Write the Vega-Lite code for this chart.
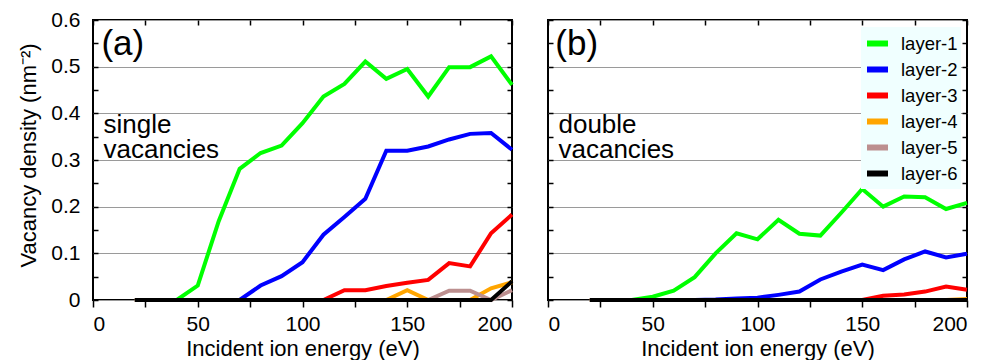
{
"$schema": "https://vega.github.io/schema/vega-lite/v6.json",
"padding": {"left": 15, "top": 8, "right": 0, "bottom": 0},
"background": "white",
"bounds": "flush",
"spacing": 36,
"config": {
  "font": "Liberation Sans",
  "view": {"stroke": "black", "strokeWidth": 2},
  "axis": {"domain": false, "tickColor": "black", "tickWidth": 1.5, "labelColor": "black", "titleColor": "black", "labelFont": "Liberation Sans", "titleFont": "Liberation Sans", "labelFontSize": 21, "titleFontSize": 22, "titleFontWeight": "normal", "gridColor": "#9a9a9a", "gridWidth": 1.2, "labelOverlap": false},
  "legend": {"orient": "none", "fillColor": "#f0ffff", "padding": 3, "symbolType": "stroke", "symbolStrokeWidth": 6, "symbolSize": 441, "labelFontSize": 18.5, "labelFont": "Liberation Sans", "labelColor": "black", "rowPadding": -4, "labelOffset": 10, "title": null}
},
"resolve": {"legend": {"color": "independent"}},
"datasets": {
 "a": [
  {"energy":20,"density":0,"layer":"layer-1"},{"energy":30,"density":0,"layer":"layer-1"},{"energy":40,"density":0,"layer":"layer-1"},{"energy":50,"density":0.031,"layer":"layer-1"},{"energy":60,"density":0.169,"layer":"layer-1"},{"energy":70,"density":0.281,"layer":"layer-1"},{"energy":80,"density":0.315,"layer":"layer-1"},{"energy":90,"density":0.331,"layer":"layer-1"},{"energy":100,"density":0.379,"layer":"layer-1"},{"energy":110,"density":0.436,"layer":"layer-1"},{"energy":120,"density":0.463,"layer":"layer-1"},{"energy":130,"density":0.511,"layer":"layer-1"},{"energy":140,"density":0.474,"layer":"layer-1"},{"energy":150,"density":0.495,"layer":"layer-1"},{"energy":160,"density":0.436,"layer":"layer-1"},{"energy":170,"density":0.499,"layer":"layer-1"},{"energy":180,"density":0.499,"layer":"layer-1"},{"energy":190,"density":0.522,"layer":"layer-1"},{"energy":200,"density":0.461,"layer":"layer-1"},
  {"energy":20,"density":0,"layer":"layer-2"},{"energy":30,"density":0,"layer":"layer-2"},{"energy":40,"density":0,"layer":"layer-2"},{"energy":50,"density":0,"layer":"layer-2"},{"energy":60,"density":0,"layer":"layer-2"},{"energy":70,"density":0,"layer":"layer-2"},{"energy":80,"density":0.031,"layer":"layer-2"},{"energy":90,"density":0.051,"layer":"layer-2"},{"energy":100,"density":0.081,"layer":"layer-2"},{"energy":110,"density":0.14,"layer":"layer-2"},{"energy":120,"density":0.178,"layer":"layer-2"},{"energy":130,"density":0.217,"layer":"layer-2"},{"energy":140,"density":0.32,"layer":"layer-2"},{"energy":150,"density":0.32,"layer":"layer-2"},{"energy":160,"density":0.329,"layer":"layer-2"},{"energy":170,"density":0.344,"layer":"layer-2"},{"energy":180,"density":0.356,"layer":"layer-2"},{"energy":190,"density":0.358,"layer":"layer-2"},{"energy":200,"density":0.322,"layer":"layer-2"},
  {"energy":20,"density":0,"layer":"layer-3"},{"energy":30,"density":0,"layer":"layer-3"},{"energy":40,"density":0,"layer":"layer-3"},{"energy":50,"density":0,"layer":"layer-3"},{"energy":60,"density":0,"layer":"layer-3"},{"energy":70,"density":0,"layer":"layer-3"},{"energy":80,"density":0,"layer":"layer-3"},{"energy":90,"density":0,"layer":"layer-3"},{"energy":100,"density":0,"layer":"layer-3"},{"energy":110,"density":0,"layer":"layer-3"},{"energy":120,"density":0.021,"layer":"layer-3"},{"energy":130,"density":0.021,"layer":"layer-3"},{"energy":140,"density":0.03,"layer":"layer-3"},{"energy":150,"density":0.037,"layer":"layer-3"},{"energy":160,"density":0.043,"layer":"layer-3"},{"energy":170,"density":0.079,"layer":"layer-3"},{"energy":180,"density":0.072,"layer":"layer-3"},{"energy":190,"density":0.143,"layer":"layer-3"},{"energy":200,"density":0.183,"layer":"layer-3"},
  {"energy":20,"density":0,"layer":"layer-4"},{"energy":30,"density":0,"layer":"layer-4"},{"energy":40,"density":0,"layer":"layer-4"},{"energy":50,"density":0,"layer":"layer-4"},{"energy":60,"density":0,"layer":"layer-4"},{"energy":70,"density":0,"layer":"layer-4"},{"energy":80,"density":0,"layer":"layer-4"},{"energy":90,"density":0,"layer":"layer-4"},{"energy":100,"density":0,"layer":"layer-4"},{"energy":110,"density":0,"layer":"layer-4"},{"energy":120,"density":0,"layer":"layer-4"},{"energy":130,"density":0,"layer":"layer-4"},{"energy":140,"density":0,"layer":"layer-4"},{"energy":150,"density":0.021,"layer":"layer-4"},{"energy":160,"density":0,"layer":"layer-4"},{"energy":170,"density":0,"layer":"layer-4"},{"energy":180,"density":0,"layer":"layer-4"},{"energy":190,"density":0.025,"layer":"layer-4"},{"energy":200,"density":0.038,"layer":"layer-4"},
  {"energy":20,"density":0,"layer":"layer-5"},{"energy":30,"density":0,"layer":"layer-5"},{"energy":40,"density":0,"layer":"layer-5"},{"energy":50,"density":0,"layer":"layer-5"},{"energy":60,"density":0,"layer":"layer-5"},{"energy":70,"density":0,"layer":"layer-5"},{"energy":80,"density":0,"layer":"layer-5"},{"energy":90,"density":0,"layer":"layer-5"},{"energy":100,"density":0,"layer":"layer-5"},{"energy":110,"density":0,"layer":"layer-5"},{"energy":120,"density":0,"layer":"layer-5"},{"energy":130,"density":0,"layer":"layer-5"},{"energy":140,"density":0,"layer":"layer-5"},{"energy":150,"density":0,"layer":"layer-5"},{"energy":160,"density":0,"layer":"layer-5"},{"energy":170,"density":0.02,"layer":"layer-5"},{"energy":180,"density":0.02,"layer":"layer-5"},{"energy":190,"density":0,"layer":"layer-5"},{"energy":200,"density":0.021,"layer":"layer-5"},
  {"energy":20,"density":0,"layer":"layer-6"},{"energy":30,"density":0,"layer":"layer-6"},{"energy":40,"density":0,"layer":"layer-6"},{"energy":50,"density":0,"layer":"layer-6"},{"energy":60,"density":0,"layer":"layer-6"},{"energy":70,"density":0,"layer":"layer-6"},{"energy":80,"density":0,"layer":"layer-6"},{"energy":90,"density":0,"layer":"layer-6"},{"energy":100,"density":0,"layer":"layer-6"},{"energy":110,"density":0,"layer":"layer-6"},{"energy":120,"density":0,"layer":"layer-6"},{"energy":130,"density":0,"layer":"layer-6"},{"energy":140,"density":0,"layer":"layer-6"},{"energy":150,"density":0,"layer":"layer-6"},{"energy":160,"density":0,"layer":"layer-6"},{"energy":170,"density":0,"layer":"layer-6"},{"energy":180,"density":0,"layer":"layer-6"},{"energy":190,"density":0,"layer":"layer-6"},{"energy":200,"density":0.04,"layer":"layer-6"}
 ],
 "b": [
  {"energy":20,"density":0,"layer":"layer-1"},{"energy":30,"density":0,"layer":"layer-1"},{"energy":40,"density":0,"layer":"layer-1"},{"energy":50,"density":0.007,"layer":"layer-1"},{"energy":60,"density":0.02,"layer":"layer-1"},{"energy":70,"density":0.049,"layer":"layer-1"},{"energy":80,"density":0.1,"layer":"layer-1"},{"energy":90,"density":0.143,"layer":"layer-1"},{"energy":100,"density":0.13,"layer":"layer-1"},{"energy":110,"density":0.172,"layer":"layer-1"},{"energy":120,"density":0.142,"layer":"layer-1"},{"energy":130,"density":0.138,"layer":"layer-1"},{"energy":140,"density":0.187,"layer":"layer-1"},{"energy":150,"density":0.238,"layer":"layer-1"},{"energy":160,"density":0.2,"layer":"layer-1"},{"energy":170,"density":0.222,"layer":"layer-1"},{"energy":180,"density":0.22,"layer":"layer-1"},{"energy":190,"density":0.195,"layer":"layer-1"},{"energy":200,"density":0.208,"layer":"layer-1"},
  {"energy":20,"density":0,"layer":"layer-2"},{"energy":30,"density":0,"layer":"layer-2"},{"energy":40,"density":0,"layer":"layer-2"},{"energy":50,"density":0,"layer":"layer-2"},{"energy":60,"density":0,"layer":"layer-2"},{"energy":70,"density":0,"layer":"layer-2"},{"energy":80,"density":0.001,"layer":"layer-2"},{"energy":90,"density":0.003,"layer":"layer-2"},{"energy":100,"density":0.005,"layer":"layer-2"},{"energy":110,"density":0.011,"layer":"layer-2"},{"energy":120,"density":0.018,"layer":"layer-2"},{"energy":130,"density":0.044,"layer":"layer-2"},{"energy":140,"density":0.061,"layer":"layer-2"},{"energy":150,"density":0.076,"layer":"layer-2"},{"energy":160,"density":0.064,"layer":"layer-2"},{"energy":170,"density":0.087,"layer":"layer-2"},{"energy":180,"density":0.104,"layer":"layer-2"},{"energy":190,"density":0.091,"layer":"layer-2"},{"energy":200,"density":0.099,"layer":"layer-2"},
  {"energy":20,"density":0,"layer":"layer-3"},{"energy":30,"density":0,"layer":"layer-3"},{"energy":40,"density":0,"layer":"layer-3"},{"energy":50,"density":0,"layer":"layer-3"},{"energy":60,"density":0,"layer":"layer-3"},{"energy":70,"density":0,"layer":"layer-3"},{"energy":80,"density":0,"layer":"layer-3"},{"energy":90,"density":0,"layer":"layer-3"},{"energy":100,"density":0,"layer":"layer-3"},{"energy":110,"density":0,"layer":"layer-3"},{"energy":120,"density":0,"layer":"layer-3"},{"energy":130,"density":0,"layer":"layer-3"},{"energy":140,"density":0,"layer":"layer-3"},{"energy":150,"density":0,"layer":"layer-3"},{"energy":160,"density":0.009,"layer":"layer-3"},{"energy":170,"density":0.012,"layer":"layer-3"},{"energy":180,"density":0.018,"layer":"layer-3"},{"energy":190,"density":0.029,"layer":"layer-3"},{"energy":200,"density":0.022,"layer":"layer-3"},
  {"energy":20,"density":0,"layer":"layer-4"},{"energy":30,"density":0,"layer":"layer-4"},{"energy":40,"density":0,"layer":"layer-4"},{"energy":50,"density":0,"layer":"layer-4"},{"energy":60,"density":0,"layer":"layer-4"},{"energy":70,"density":0,"layer":"layer-4"},{"energy":80,"density":0,"layer":"layer-4"},{"energy":90,"density":0,"layer":"layer-4"},{"energy":100,"density":0,"layer":"layer-4"},{"energy":110,"density":0,"layer":"layer-4"},{"energy":120,"density":0,"layer":"layer-4"},{"energy":130,"density":0,"layer":"layer-4"},{"energy":140,"density":0,"layer":"layer-4"},{"energy":150,"density":0,"layer":"layer-4"},{"energy":160,"density":0,"layer":"layer-4"},{"energy":170,"density":0,"layer":"layer-4"},{"energy":180,"density":0,"layer":"layer-4"},{"energy":190,"density":0,"layer":"layer-4"},{"energy":200,"density":0.002,"layer":"layer-4"},
  {"energy":20,"density":0,"layer":"layer-5"},{"energy":30,"density":0,"layer":"layer-5"},{"energy":40,"density":0,"layer":"layer-5"},{"energy":50,"density":0,"layer":"layer-5"},{"energy":60,"density":0,"layer":"layer-5"},{"energy":70,"density":0,"layer":"layer-5"},{"energy":80,"density":0,"layer":"layer-5"},{"energy":90,"density":0,"layer":"layer-5"},{"energy":100,"density":0,"layer":"layer-5"},{"energy":110,"density":0,"layer":"layer-5"},{"energy":120,"density":0,"layer":"layer-5"},{"energy":130,"density":0,"layer":"layer-5"},{"energy":140,"density":0,"layer":"layer-5"},{"energy":150,"density":0,"layer":"layer-5"},{"energy":160,"density":0,"layer":"layer-5"},{"energy":170,"density":0,"layer":"layer-5"},{"energy":180,"density":0,"layer":"layer-5"},{"energy":190,"density":0,"layer":"layer-5"},{"energy":200,"density":0,"layer":"layer-5"},
  {"energy":20,"density":0,"layer":"layer-6"},{"energy":30,"density":0,"layer":"layer-6"},{"energy":40,"density":0,"layer":"layer-6"},{"energy":50,"density":0,"layer":"layer-6"},{"energy":60,"density":0,"layer":"layer-6"},{"energy":70,"density":0,"layer":"layer-6"},{"energy":80,"density":0,"layer":"layer-6"},{"energy":90,"density":0,"layer":"layer-6"},{"energy":100,"density":0,"layer":"layer-6"},{"energy":110,"density":0,"layer":"layer-6"},{"energy":120,"density":0,"layer":"layer-6"},{"energy":130,"density":0,"layer":"layer-6"},{"energy":140,"density":0,"layer":"layer-6"},{"energy":150,"density":0,"layer":"layer-6"},{"energy":160,"density":0,"layer":"layer-6"},{"energy":170,"density":0,"layer":"layer-6"},{"energy":180,"density":0,"layer":"layer-6"},{"energy":190,"density":0,"layer":"layer-6"},{"energy":200,"density":0,"layer":"layer-6"}
 ]
},
"hconcat": [
 {
  "width": 419, "height": 280,
  "resolve": {"axis": {"x": "independent", "y": "independent"}},
  "layer": [
   {
    "data": {"name": "a"},
    "mark": {"type": "line", "strokeWidth": 4},
    "encoding": {
     "x": {"field": "energy", "type": "quantitative", "scale": {"domain": [0, 200], "nice": false},
       "axis": {"orient": "bottom", "values": [0,25,50,75,100,125,150,175,200], "tickSize": 7, "labelExpr": "datum.value % 50 == 0 ? datum.label : ''", "labelBaseline": "alphabetic", "labelPadding": 23, "title": "Incident ion energy (eV)", "titleBaseline": "alphabetic", "titleY": 55, "grid": false}},
     "y": {"field": "density", "type": "quantitative", "scale": {"domain": [0, 0.6], "nice": false},
       "axis": {"orient": "left", "values": [0,0.05,0.1,0.15,0.2,0.25,0.3,0.35,0.4,0.45,0.5,0.55,0.6], "tickSize": -5, "labelPadding": 18, "labelExpr": "round(datum.value*20) % 2 == 0 ? (datum.value == 0 ? '0' : format(datum.value, '.1f')) : ''", "title": "Vacancy density (nm⁻²)", "titleBaseline": "alphabetic", "titleX": -58, "titleY": 135, "grid": true, "gridOpacity": {"condition": {"test": "round(datum.value*20) % 2 == 0", "value": 1}, "value": 0}}},
     "color": {"field": "layer", "type": "nominal", "scale": {"domain": ["layer-1","layer-2","layer-3","layer-4","layer-5","layer-6"], "range": ["#00ff00","#0000ff","#ff0000","#ffa500","#bc8f8f","#000000"]}, "legend": null}
    }
   },
   {
    "data": {"values": [{}]},
    "mark": {"type": "text", "text": "(a)", "fontSize": 35, "align": "left", "baseline": "alphabetic", "color": "black"},
    "encoding": {
     "x": {"datum": 4, "type": "quantitative", "scale": {"domain": [0, 200], "nice": false}, "axis": {"orient": "top", "values": [0,25,50,75,100,125,150,175,200], "tickSize": -5, "labels": false, "title": null, "grid": false}},
     "y": {"datum": 0.526, "type": "quantitative", "scale": {"domain": [0, 0.6], "nice": false}, "axis": {"orient": "right", "values": [0,0.05,0.1,0.15,0.2,0.25,0.3,0.35,0.4,0.45,0.5,0.55,0.6], "tickSize": -5, "labels": false, "title": null, "grid": false}}
    }
   },
   {
    "data": {"values": [{}]},
    "mark": {"type": "text", "text": ["single", "vacancies"], "fontSize": 26, "lineHeight": 25.6, "align": "left", "baseline": "alphabetic", "color": "black"},
    "encoding": {
     "x": {"datum": 5, "type": "quantitative", "scale": {"domain": [0, 200], "nice": false}, "axis": null},
     "y": {"datum": 0.3585, "type": "quantitative", "scale": {"domain": [0, 0.6], "nice": false}, "axis": null}
    }
   }
  ]
 },
 {
  "width": 419, "height": 280,
  "resolve": {"axis": {"x": "independent", "y": "independent"}},
  "layer": [
   {
    "data": {"name": "b"},
    "mark": {"type": "line", "strokeWidth": 4},
    "encoding": {
     "x": {"field": "energy", "type": "quantitative", "scale": {"domain": [0, 200], "nice": false},
       "axis": {"orient": "bottom", "values": [0,25,50,75,100,125,150,175,200], "tickSize": 7, "labelExpr": "datum.value % 50 == 0 ? datum.label : ''", "labelBaseline": "alphabetic", "labelPadding": 23, "title": "Incident ion energy (eV)", "titleBaseline": "alphabetic", "titleY": 55, "grid": false}},
     "y": {"field": "density", "type": "quantitative", "scale": {"domain": [0, 0.6], "nice": false},
       "axis": {"orient": "left", "values": [0,0.05,0.1,0.15,0.2,0.25,0.3,0.35,0.4,0.45,0.5,0.55,0.6], "tickSize": -5, "labels": false, "title": null, "grid": true, "gridOpacity": {"condition": {"test": "round(datum.value*20) % 2 == 0", "value": 1}, "value": 0}}},
     "color": {"field": "layer", "type": "nominal", "scale": {"domain": ["layer-1","layer-2","layer-3","layer-4","layer-5","layer-6"], "range": ["#00ff00","#0000ff","#ff0000","#ffa500","#bc8f8f","#000000"]}, "legend": {"orient": "none", "legendX": 313, "legendY": 7, "title": null}}
    }
   },
   {
    "data": {"values": [{}]},
    "mark": {"type": "text", "text": "(b)", "fontSize": 35, "align": "left", "baseline": "alphabetic", "color": "black"},
    "encoding": {
     "x": {"datum": 3.5, "type": "quantitative", "scale": {"domain": [0, 200], "nice": false}, "axis": {"orient": "top", "values": [0,25,50,75,100,125,150,175,200], "tickSize": -5, "labels": false, "title": null, "grid": false}},
     "y": {"datum": 0.526, "type": "quantitative", "scale": {"domain": [0, 0.6], "nice": false}, "axis": {"orient": "right", "values": [0,0.05,0.1,0.15,0.2,0.25,0.3,0.35,0.4,0.45,0.5,0.55,0.6], "tickSize": -5, "labels": false, "title": null, "grid": false}}
    }
   },
   {
    "data": {"values": [{}]},
    "mark": {"type": "text", "text": ["double", "vacancies"], "fontSize": 26, "lineHeight": 25.6, "align": "left", "baseline": "alphabetic", "color": "black"},
    "encoding": {
     "x": {"datum": 5, "type": "quantitative", "scale": {"domain": [0, 200], "nice": false}, "axis": null},
     "y": {"datum": 0.3585, "type": "quantitative", "scale": {"domain": [0, 0.6], "nice": false}, "axis": null}
    }
   }
  ]
 }
]
}
